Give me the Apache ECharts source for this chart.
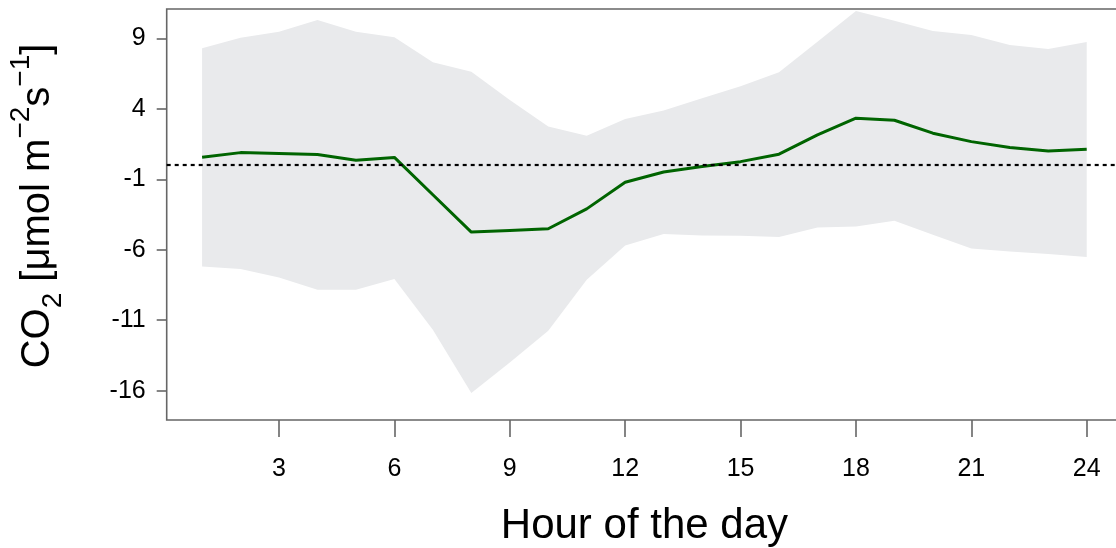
<!DOCTYPE html>
<html>
<head>
<meta charset="utf-8">
<script src="https://cdn.jsdelivr.net/npm/echarts@6/dist/echarts.min.js"></script>
<style>
html,body{margin:0;padding:0;background:#fff;}
#chart{width:1116px;height:548px;}
</style>
</head>
<body>
<div id="chart"></div>
<script>
var hours = [1,2,3,4,5,6,7,8,9,10,11,12,13,14,15,16,17,18,19,20,21,22,23,24];
var meanFlux = [0.56,0.89,0.82,0.75,0.35,0.55,-2.1,-4.75,-4.63,-4.51,-3.1,-1.21,-0.48,-0.1,0.25,0.78,2.15,3.33,3.19,2.27,1.67,1.25,1.01,1.13];
var upperFlux = [8.29,9.04,9.47,10.3,9.47,9.07,7.3,6.63,4.63,2.74,2.08,3.28,3.87,4.75,5.6,6.59,8.76,10.93,10.25,9.52,9.23,8.53,8.24,8.74];
var lowerFlux = [-7.19,-7.37,-7.97,-8.84,-8.84,-8.08,-11.67,-16.16,-14.0,-11.74,-8.13,-5.7,-4.89,-4.99,-5.0,-5.1,-4.42,-4.35,-3.95,-4.94,-5.91,-6.12,-6.31,-6.52];
var yTicks = [9,4,-1,-6,-11,-16];
var xTicks = [3,6,9,12,15,18,21,24];
var xTitle = 'Hour of the day';

var FONT = '"Liberation Sans", Arial, Helvetica, sans-serif';
var meanData = hours.map(function(h,i){return [h, meanFlux[i]];});
var bandData = hours.map(function(h,i){return [h, lowerFlux[i], upperFlux[i]];});

function renderBand(params, api){
  if (params.dataIndex !== 0) return null;
  var pts = [];
  var i;
  for (i = 0; i < hours.length; i++) pts.push(api.coord([hours[i], upperFlux[i]]));
  for (i = hours.length - 1; i >= 0; i--) pts.push(api.coord([hours[i], lowerFlux[i]]));
  return {
    type:'polygon',
    shape:{points:pts},
    style:{fill:'#e9eaec', stroke:'none'},
    silent:true
  };
}

var chart = echarts.init(document.getElementById('chart'), null, {renderer:'canvas'});
chart.setOption({
  animation:false,
  backgroundColor:'#ffffff',
  grid:{left:166.7, top:9, width:955.4, height:411, show:true, borderColor:'#666666', borderWidth:1.6, backgroundColor:'transparent', containLabel:false, outerBoundsMode:'none'},
  xAxis:{
    type:'value', min:0.08, max:24.92,
    axisLine:{show:false, onZero:false},
    splitLine:{show:false},
    axisTick:{show:true, length:17, customValues:xTicks, lineStyle:{color:'#666666', width:1.6}},
    axisLabel:{show:true, customValues:xTicks, margin:37, color:'#000', fontSize:25, fontFamily:FONT},
    name:xTitle, nameLocation:'middle', nameGap:85,
    nameTextStyle:{fontSize:42, color:'#000', fontFamily:FONT}
  },
  yAxis:{
    type:'value', min:-18.08, max:11.08,
    axisLine:{show:false, onZero:false},
    splitLine:{show:false},
    axisTick:{show:true, length:10, customValues:yTicks, lineStyle:{color:'#666666', width:1.6}},
    axisLabel:{show:true, customValues:yTicks, margin:21, color:'#000', fontSize:25, fontFamily:FONT},
    name:'{n|CO}{sub|2}{n| [μmol m}{sup|−2}{n|s}{sup|−1}{n|]}',
    nameLocation:'middle', nameRotate:90, nameGap:99,
    nameTextStyle:{
      color:'#000', fontFamily:FONT, padding:[0,0,0,17],
      rich:{
        n:{fontSize:40, lineHeight:60, verticalAlign:'middle', fontFamily:FONT, color:'#000'},
        sup:{fontSize:28, lineHeight:22, verticalAlign:'top', fontFamily:FONT, color:'#000'},
        sub:{fontSize:28, lineHeight:34, verticalAlign:'bottom', fontFamily:FONT, color:'#000'}
      }
    }
  },
  series:[
    {
      type:'custom', name:'band', data:bandData, renderItem:renderBand, silent:true, z:1,
      encode:{x:0, y:[1,2]}
    },
    {
      type:'line', name:'zero', data:[], silent:true, z:2,
      markLine:{
        silent:true, symbol:['none','none'], label:{show:false},
        lineStyle:{color:'#000', type:[4,4], width:2.2},
        data:[{yAxis:0}]
      }
    },
    {
      type:'line', name:'mean', data:meanData, showSymbol:false, symbol:'none', z:3,
      lineStyle:{color:'#006400', width:3}
    }
  ]
});
</script>
</body>
</html>
